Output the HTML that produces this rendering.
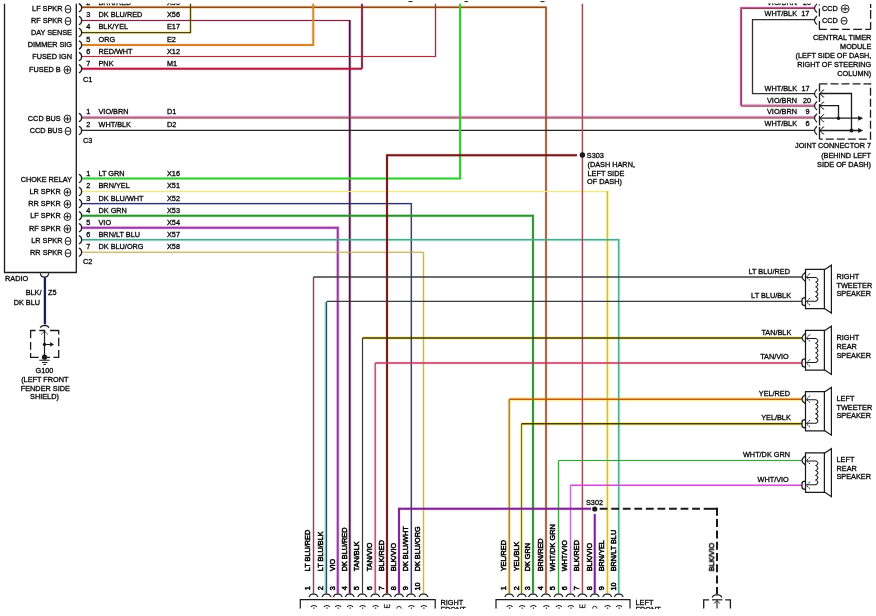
<!DOCTYPE html>
<html><head><meta charset="utf-8"><title>Radio wiring diagram</title>
<style>
html,body{margin:0;padding:0;background:#fff;}
body{width:876px;height:616px;overflow:hidden;}
svg{display:block;}
svg text{font-family:"Liberation Sans",sans-serif;fill:#000;stroke:#000;stroke-width:0.3px;}
</style></head><body>
<svg width="876" height="616" viewBox="0 0 876 616">
<defs><clipPath id="ct"><rect x="0" y="3.6" width="876" height="20"/></clipPath><clipPath id="cb"><rect x="0" y="0" width="876" height="609"/></clipPath></defs>
<rect width="876" height="616" fill="#ffffff"/>
<path d="M81.50,7.30 L546.70,7.30" stroke="#f4c488" stroke-width="3.6" fill="none" opacity="0.55"/>
<path d="M546.00,7.50 L546.00,593.50" stroke="#f6d2b4" stroke-width="3.6" fill="none" opacity="0.45"/>
<path d="M81.50,20.50 L349.75,20.50" stroke="#f7c6d6" stroke-width="3" fill="none" opacity="0.45"/>
<path d="M349.75,20.00 L349.75,593.50" stroke="#f4b6e0" stroke-width="4" fill="none" opacity="0.45"/>
<path d="M81.50,32.50 L190.50,32.50 L190.50,3.80" stroke="#f3ea90" stroke-width="3.4" fill="none" opacity="0.6"/>
<path d="M81.50,45.00 L313.25,45.00 L313.25,3.80" stroke="#fbe2bd" stroke-width="4" fill="none" opacity="0.45"/>
<path d="M81.50,56.50 L435.50,56.50 L435.50,3.80" stroke="#f8cfd0" stroke-width="2.8" fill="none" opacity="0.45"/>
<path d="M81.50,68.75 L362.00,68.75" stroke="#f8c3d4" stroke-width="4" fill="none" opacity="0.45"/>
<path d="M362.00,68.75 L362.00,3.80" stroke="#f8c3d4" stroke-width="4" fill="none" opacity="0.45"/>
<path d="M81.50,117.00 L815.00,117.00" stroke="#f7b4ee" stroke-width="3.2" fill="none" opacity="0.45"/>
<path d="M81.50,118.00 L815.00,118.00" stroke="#f6d8b8" stroke-width="3.0" fill="none" opacity="0.45"/>
<path d="M81.50,178.50 L460.00,178.50 L460.00,3.80" stroke="#c9f5c4" stroke-width="4" fill="none" opacity="0.45"/>
<path d="M81.50,191.50 L607.25,191.50" stroke="#fbf4b8" stroke-width="3.2" fill="none" opacity="0.45"/>
<path d="M607.40,191.00 L607.40,593.50" stroke="#f9ec68" stroke-width="3.4" fill="none" opacity="0.55"/>
<path d="M81.50,203.50 L411.30,203.50 L411.30,593.50" stroke="#d5d8f5" stroke-width="3" fill="none" opacity="0.45"/>
<path d="M81.50,215.75 L533.00,215.75 L533.00,593.50" stroke="#c4ecc0" stroke-width="4" fill="none" opacity="0.45"/>
<path d="M81.50,227.75 L337.75,227.75 L337.75,593.50" stroke="#f6a4f4" stroke-width="4" fill="none" opacity="0.45"/>
<path d="M81.50,239.75 L618.75,239.75 L618.75,593.50" stroke="#b4f0ec" stroke-width="4" fill="none" opacity="0.45"/>
<path d="M81.50,252.25 L423.50,252.25" stroke="#f6ecac" stroke-width="3" fill="none" opacity="0.45"/>
<path d="M423.50,252.25 L423.50,593.50" stroke="#f6ec9c" stroke-width="3" fill="none" opacity="0.45"/>
<path d="M577.00,155.25 L387.00,155.25 L387.00,593.50" stroke="#f0c4c0" stroke-width="4" fill="none" opacity="0.45"/>
<path d="M582.40,3.80 L582.40,593.50" stroke="#f6d0d8" stroke-width="3" fill="none" opacity="0.45"/>
<path d="M313.50,593.50 L313.50,277.00" stroke="#f6d0d8" stroke-width="3" fill="none" opacity="0.45"/>
<path d="M325.40,593.50 L325.40,302.00" stroke="#c8f6f6" stroke-width="3.6" fill="none" opacity="0.45"/>
<path d="M362.50,338.00 L802.00,338.00" stroke="#f6ec70" stroke-width="3.4" fill="none" opacity="0.75"/>
<path d="M375.20,593.50 L375.20,363.00" stroke="#f7cfdc" stroke-width="3.5" fill="none" opacity="0.45"/>
<path d="M375.20,363.00 L802.00,363.00" stroke="#f7cfdc" stroke-width="3.5" fill="none" opacity="0.45"/>
<path d="M509.25,593.50 L509.25,399.25" stroke="#fbdc80" stroke-width="3.6" fill="none" opacity="0.55"/>
<path d="M509.25,399.25 L802.00,399.25" stroke="#fbe578" stroke-width="3.8" fill="none" opacity="0.75"/>
<path d="M521.50,593.50 L521.50,423.75" stroke="#f8f080" stroke-width="3.6" fill="none" opacity="0.5"/>
<path d="M521.50,423.75 L802.00,423.75" stroke="#f8ee6c" stroke-width="3.6" fill="none" opacity="0.75"/>
<path d="M558.50,593.50 L558.50,460.50" stroke="#d3f0d0" stroke-width="3" fill="none" opacity="0.45"/>
<path d="M558.50,460.50 L802.00,460.50" stroke="#d3f0d0" stroke-width="3" fill="none" opacity="0.45"/>
<path d="M570.50,593.50 L570.50,485.25" stroke="#f8d4f8" stroke-width="3.5" fill="none" opacity="0.45"/>
<path d="M570.50,485.25 L802.00,485.25" stroke="#f8d4f8" stroke-width="3.5" fill="none" opacity="0.45"/>
<path d="M399.00,593.50 L399.00,508.75 L591.00,508.75" stroke="#ecc8f0" stroke-width="4" fill="none" opacity="0.45"/>
<path d="M594.75,514.00 L594.75,593.50" stroke="#ecc8f0" stroke-width="4" fill="none" opacity="0.45"/>
<path d="M815.00,7.50 L740.50,7.50 L740.50,105.20 L815.00,105.20" stroke="#f7b8ea" stroke-width="3.2" fill="none" opacity="0.45"/>
<path d="M815.00,8.50 L741.50,8.50 L741.50,106.20 L815.00,106.20" stroke="#f6d8c8" stroke-width="3.0" fill="none" opacity="0.45"/>
<path d="M44.90,277.50 L44.90,324.40" stroke="#c8cdf0" stroke-width="3.6" fill="none" opacity="0.45"/>
<path d="M81.50,7.30 L546.70,7.30" stroke="#8a481c" stroke-width="1.5" fill="none" stroke-linejoin="miter"/>
<path d="M546.00,7.50 L546.00,593.50" stroke="#984a2c" stroke-width="1.6" fill="none" stroke-linejoin="miter"/>
<path d="M81.50,20.50 L349.75,20.50" stroke="#7a2438" stroke-width="1.2" fill="none" stroke-linejoin="miter"/>
<path d="M349.75,20.00 L349.75,593.50" stroke="#45183f" stroke-width="1.8" fill="none" stroke-linejoin="miter"/>
<path d="M81.50,32.50 L190.50,32.50 L190.50,3.80" stroke="#4c4412" stroke-width="1.25" fill="none" stroke-linejoin="miter"/>
<path d="M81.50,45.00 L313.25,45.00 L313.25,3.80" stroke="#d88428" stroke-width="1.9" fill="none" stroke-linejoin="miter"/>
<path d="M81.50,56.50 L435.50,56.50 L435.50,3.80" stroke="#a83040" stroke-width="1.2" fill="none" stroke-linejoin="miter"/>
<path d="M81.50,68.75 L362.00,68.75" stroke="#ae1a42" stroke-width="1.9" fill="none" stroke-linejoin="miter"/>
<path d="M362.00,68.75 L362.00,3.80" stroke="#86284c" stroke-width="1.9" fill="none" stroke-linejoin="miter"/>
<path d="M81.50,117.00 L815.00,117.00" stroke="#bc5aa0" stroke-width="1.0" fill="none" stroke-linejoin="miter"/>
<path d="M81.50,118.00 L815.00,118.00" stroke="#7c3a46" stroke-width="1.0" fill="none" stroke-linejoin="miter"/>
<path d="M81.50,130.40 L815.00,130.40" stroke="#262626" stroke-width="1.25" fill="none" stroke-linejoin="miter"/>
<path d="M81.50,178.50 L460.00,178.50 L460.00,3.80" stroke="#35cc35" stroke-width="2.0" fill="none" stroke-linejoin="miter"/>
<path d="M81.50,191.50 L607.25,191.50" stroke="#f0e88e" stroke-width="1.2" fill="none" stroke-linejoin="miter"/>
<path d="M607.40,191.00 L607.40,593.50" stroke="#d2bc38" stroke-width="1.25" fill="none" stroke-linejoin="miter"/>
<path d="M81.50,203.50 L411.30,203.50 L411.30,593.50" stroke="#2c3066" stroke-width="1.25" fill="none" stroke-linejoin="miter"/>
<path d="M81.50,215.75 L533.00,215.75 L533.00,593.50" stroke="#2c9232" stroke-width="1.9" fill="none" stroke-linejoin="miter"/>
<path d="M81.50,227.75 L337.75,227.75 L337.75,593.50" stroke="#913c9e" stroke-width="2.0" fill="none" stroke-linejoin="miter"/>
<path d="M81.50,239.75 L618.75,239.75 L618.75,593.50" stroke="#50a686" stroke-width="1.4" fill="none" stroke-linejoin="miter"/>
<path d="M81.50,252.25 L423.50,252.25" stroke="#bcaa6c" stroke-width="1.15" fill="none" stroke-linejoin="miter"/>
<path d="M423.50,252.25 L423.50,593.50" stroke="#c9b25e" stroke-width="1.15" fill="none" stroke-linejoin="miter"/>
<path d="M577.00,155.25 L387.00,155.25 L387.00,593.50" stroke="#6f1618" stroke-width="1.9" fill="none" stroke-linejoin="miter"/>
<path d="M582.40,3.80 L582.40,593.50" stroke="#9e4c56" stroke-width="1.3" fill="none" stroke-linejoin="miter"/>
<path d="M313.50,593.50 L313.50,277.00" stroke="#8a4444" stroke-width="1.25" fill="none" stroke-linejoin="miter"/>
<path d="M313.50,277.00 L802.00,277.00" stroke="#3e3e3e" stroke-width="1.45" fill="none" stroke-linejoin="miter"/>
<path d="M325.40,593.50 L325.40,302.00" stroke="#4fd8d8" stroke-width="1.3" fill="none" stroke-linejoin="miter"/>
<path d="M326.60,593.50 L326.60,301.70" stroke="#1f4a4a" stroke-width="1.1" fill="none" stroke-linejoin="miter"/>
<path d="M326.60,301.40 L802.00,301.40" stroke="#3c3c3c" stroke-width="1.35" fill="none" stroke-linejoin="miter"/>
<path d="M362.50,593.50 L362.50,338.00" stroke="#383838" stroke-width="1.2" fill="none" stroke-linejoin="miter"/>
<path d="M362.50,338.00 L802.00,338.00" stroke="#3c3410" stroke-width="1.3" fill="none" stroke-linejoin="miter"/>
<path d="M375.20,593.50 L375.20,363.00" stroke="#bc4c68" stroke-width="1.4" fill="none" stroke-linejoin="miter"/>
<path d="M375.20,363.00 L802.00,363.00" stroke="#c6345c" stroke-width="1.4" fill="none" stroke-linejoin="miter"/>
<path d="M509.25,593.50 L509.25,399.25" stroke="#b06c2c" stroke-width="1.3" fill="none" stroke-linejoin="miter"/>
<path d="M509.25,399.25 L802.00,399.25" stroke="#bf5c14" stroke-width="1.5" fill="none" stroke-linejoin="miter"/>
<path d="M521.50,593.50 L521.50,423.75" stroke="#7c6c1e" stroke-width="1.25" fill="none" stroke-linejoin="miter"/>
<path d="M521.50,423.75 L802.00,423.75" stroke="#463c10" stroke-width="1.3" fill="none" stroke-linejoin="miter"/>
<path d="M558.50,593.50 L558.50,460.50" stroke="#3fa045" stroke-width="1.2" fill="none" stroke-linejoin="miter"/>
<path d="M558.50,460.50 L802.00,460.50" stroke="#3aa040" stroke-width="1.15" fill="none" stroke-linejoin="miter"/>
<path d="M570.50,593.50 L570.50,485.25" stroke="#bc74c8" stroke-width="1.3" fill="none" stroke-linejoin="miter"/>
<path d="M570.50,485.25 L802.00,485.25" stroke="#cf52d4" stroke-width="1.4" fill="none" stroke-linejoin="miter"/>
<path d="M399.00,593.50 L399.00,508.75 L591.00,508.75" stroke="#7d2090" stroke-width="1.9" fill="none" stroke-linejoin="miter"/>
<path d="M594.75,514.00 L594.75,593.50" stroke="#702084" stroke-width="1.9" fill="none" stroke-linejoin="miter"/>
<path d="M815.00,7.50 L740.50,7.50 L740.50,105.20 L815.00,105.20" stroke="#ba5c96" stroke-width="1.0" fill="none" stroke-linejoin="miter"/>
<path d="M815.00,8.50 L741.50,8.50 L741.50,106.20 L815.00,106.20" stroke="#8c4258" stroke-width="1.0" fill="none" stroke-linejoin="miter"/>
<path d="M815.00,19.60 L752.50,19.60 L752.50,93.70 L815.00,93.70" stroke="#303030" stroke-width="1.3" fill="none" stroke-linejoin="miter"/>
<path d="M44.90,277.50 L44.90,324.40" stroke="#141a54" stroke-width="2.1" fill="none" stroke-linejoin="miter"/>
<path d="M4.50,3.80 L4.50,272.50 L76.30,272.50 L76.30,3.80" stroke="#1a1a1a" stroke-width="1.3" fill="none" />
<path d="M78.9,3.60 C82.6,5.20 82.6,10.40 78.9,12.00" stroke="#1a1a1a" stroke-width="1.2" fill="none"/>
<path d="M78.9,16.30 C82.6,17.90 82.6,23.10 78.9,24.70" stroke="#1a1a1a" stroke-width="1.2" fill="none"/>
<path d="M78.9,28.30 C82.6,29.90 82.6,35.10 78.9,36.70" stroke="#1a1a1a" stroke-width="1.2" fill="none"/>
<path d="M78.9,40.80 C82.6,42.40 82.6,47.60 78.9,49.20" stroke="#1a1a1a" stroke-width="1.2" fill="none"/>
<path d="M78.9,52.40 C82.6,54.00 82.6,59.20 78.9,60.80" stroke="#1a1a1a" stroke-width="1.2" fill="none"/>
<path d="M78.9,64.55 C82.6,66.15 82.6,71.35 78.9,72.95" stroke="#1a1a1a" stroke-width="1.2" fill="none"/>
<path d="M78.9,113.30 C82.6,114.90 82.6,120.10 78.9,121.70" stroke="#1a1a1a" stroke-width="1.2" fill="none"/>
<path d="M78.9,126.30 C82.6,127.90 82.6,133.10 78.9,134.70" stroke="#1a1a1a" stroke-width="1.2" fill="none"/>
<path d="M78.9,174.30 C82.6,175.90 82.6,181.10 78.9,182.70" stroke="#1a1a1a" stroke-width="1.2" fill="none"/>
<path d="M78.9,187.30 C82.6,188.90 82.6,194.10 78.9,195.70" stroke="#1a1a1a" stroke-width="1.2" fill="none"/>
<path d="M78.9,199.30 C82.6,200.90 82.6,206.10 78.9,207.70" stroke="#1a1a1a" stroke-width="1.2" fill="none"/>
<path d="M78.9,211.55 C82.6,213.15 82.6,218.35 78.9,219.95" stroke="#1a1a1a" stroke-width="1.2" fill="none"/>
<path d="M78.9,223.55 C82.6,225.15 82.6,230.35 78.9,231.95" stroke="#1a1a1a" stroke-width="1.2" fill="none"/>
<path d="M78.9,235.55 C82.6,237.15 82.6,242.35 78.9,243.95" stroke="#1a1a1a" stroke-width="1.2" fill="none"/>
<path d="M78.9,248.05 C82.6,249.65 82.6,254.85 78.9,256.45" stroke="#1a1a1a" stroke-width="1.2" fill="none"/>
<ellipse cx="68.0" cy="9.200000000000001" rx="2.85" ry="3.85" stroke="#1a1a1a" stroke-width="1.0" fill="none"/>
<path d="M66.05,9.200000000000001 H69.95" stroke="#1a1a1a" stroke-width="1.0"/>
<ellipse cx="68.0" cy="21.2" rx="2.85" ry="3.85" stroke="#1a1a1a" stroke-width="1.0" fill="none"/>
<path d="M66.05,21.2 H69.95" stroke="#1a1a1a" stroke-width="1.0"/>
<ellipse cx="67.4" cy="69.9" rx="3.35" ry="3.85" stroke="#1a1a1a" stroke-width="1.0" fill="none"/>
<path d="M64.95,69.9 H69.85" stroke="#1a1a1a" stroke-width="1.0"/>
<path d="M67.4,67.60000000000001 V72.2" stroke="#1a1a1a" stroke-width="1.0"/>
<ellipse cx="67.4" cy="118.9" rx="3.35" ry="3.85" stroke="#1a1a1a" stroke-width="1.0" fill="none"/>
<path d="M64.95,118.9 H69.85" stroke="#1a1a1a" stroke-width="1.0"/>
<path d="M67.4,116.60000000000001 V121.2" stroke="#1a1a1a" stroke-width="1.0"/>
<ellipse cx="68.0" cy="131.20000000000002" rx="2.85" ry="3.85" stroke="#1a1a1a" stroke-width="1.0" fill="none"/>
<path d="M66.05,131.20000000000002 H69.95" stroke="#1a1a1a" stroke-width="1.0"/>
<ellipse cx="67.4" cy="192.20000000000002" rx="3.35" ry="3.85" stroke="#1a1a1a" stroke-width="1.0" fill="none"/>
<path d="M64.95,192.20000000000002 H69.85" stroke="#1a1a1a" stroke-width="1.0"/>
<path d="M67.4,189.9 V194.50000000000003" stroke="#1a1a1a" stroke-width="1.0"/>
<ellipse cx="67.4" cy="204.20000000000002" rx="3.35" ry="3.85" stroke="#1a1a1a" stroke-width="1.0" fill="none"/>
<path d="M64.95,204.20000000000002 H69.85" stroke="#1a1a1a" stroke-width="1.0"/>
<path d="M67.4,201.9 V206.50000000000003" stroke="#1a1a1a" stroke-width="1.0"/>
<ellipse cx="67.4" cy="216.70000000000002" rx="3.35" ry="3.85" stroke="#1a1a1a" stroke-width="1.0" fill="none"/>
<path d="M64.95,216.70000000000002 H69.85" stroke="#1a1a1a" stroke-width="1.0"/>
<path d="M67.4,214.4 V219.00000000000003" stroke="#1a1a1a" stroke-width="1.0"/>
<ellipse cx="67.4" cy="228.9" rx="3.35" ry="3.85" stroke="#1a1a1a" stroke-width="1.0" fill="none"/>
<path d="M64.95,228.9 H69.85" stroke="#1a1a1a" stroke-width="1.0"/>
<path d="M67.4,226.6 V231.20000000000002" stroke="#1a1a1a" stroke-width="1.0"/>
<ellipse cx="68.0" cy="241.20000000000002" rx="2.85" ry="3.85" stroke="#1a1a1a" stroke-width="1.0" fill="none"/>
<path d="M66.05,241.20000000000002 H69.95" stroke="#1a1a1a" stroke-width="1.0"/>
<ellipse cx="68.0" cy="253.20000000000002" rx="2.85" ry="3.85" stroke="#1a1a1a" stroke-width="1.0" fill="none"/>
<path d="M66.05,253.20000000000002 H69.95" stroke="#1a1a1a" stroke-width="1.0"/>
<path d="M408.5,1.6 h4 M464.5,1.6 h3.5 M540.5,1.6 h4" stroke="#1a1a1a" stroke-width="1"/>
<path d="M40.3,273.4 C41,278.4 48,278.4 48.7,273.4" stroke="#1a1a1a" stroke-width="1.2" fill="none"/>
<path d="M40.2,327.6 Q41.6,325.5 43.2,325.5 H46 Q47.6,325.5 49,327.6" stroke="#1a1a1a" stroke-width="1.25" fill="none"/>
<path d="M30.60,330.50 L35.60,330.50 M39.30,330.50 L45.30,330.50 M50.00,330.50 L58.70,330.50 M30.60,329.90 L30.60,338.30 M30.60,342.00 L30.60,349.70 M30.60,353.00 L30.60,357.90 M58.70,329.90 L58.70,334.50 M58.70,337.80 L58.70,346.30 M58.70,350.00 L58.70,357.90 M30.60,357.30 L38.60,357.30 M42.40,357.30 L50.00,357.30 M53.40,357.30 L58.70,357.30" stroke="#1a1a1a" stroke-width="1.3" fill="none"/>
<path d="M44.50,331.00 L44.50,357.00" stroke="#1a1a1a" stroke-width="1.2" fill="none" />
<path d="M41.2,334.4 L44.5,331.2 L47.8,334.4" stroke="#1a1a1a" stroke-width="1" fill="none" stroke-dasharray="2 0.8"/>
<circle cx="44.5" cy="344.4" r="1.7" fill="#1a1a1a"/>
<path d="M44.50,344.50 L51.00,344.50" stroke="#1a1a1a" stroke-width="1.1" fill="none" />
<path d="M50.2,342.1 L54,344.4 L50.2,346.7 Z" fill="#1a1a1a"/>
<circle cx="44.5" cy="357.2" r="2.6" fill="#1a1a1a"/>
<path d="M39.3,360.3 H49.7 M42,362.4 H47.5 M43.5,364.4 H46" stroke="#1a1a1a" stroke-width="1.05"/>
<circle cx="582.4" cy="155" r="2.7" fill="#1a1a1a"/>
<path d="M819.40,4.40 L819.40,5.60 M819.40,8.60 L819.40,16.40 M819.40,21.00 L819.40,29.40 M870.60,4.00 L870.60,8.00 M870.60,10.00 L870.60,18.80 M870.60,22.00 L870.60,29.40 M819.20,29.40 L826.80,29.40 M830.40,29.40 L838.80,29.40 M842.00,29.40 L850.00,29.40 M853.20,29.40 L862.00,29.40 M865.20,29.40 L870.60,29.40" stroke="#1a1a1a" stroke-width="1.3" fill="none"/>
<path d="M817,3.90 Q812,8.20 817,12.50" stroke="#1a1a1a" stroke-width="1.2" fill="none"/>
<path d="M817,16.00 Q812,20.30 817,24.60" stroke="#1a1a1a" stroke-width="1.2" fill="none"/>
<path d="M817,89.40 Q812,93.70 817,98.00" stroke="#1a1a1a" stroke-width="1.2" fill="none"/>
<path d="M817,101.50 Q812,105.80 817,110.10" stroke="#1a1a1a" stroke-width="1.2" fill="none"/>
<path d="M817,113.70 Q812,118.00 817,122.30" stroke="#1a1a1a" stroke-width="1.2" fill="none"/>
<path d="M817,126.20 Q812,130.50 817,134.80" stroke="#1a1a1a" stroke-width="1.2" fill="none"/>
<ellipse cx="845.1" cy="8.8" rx="3.9" ry="3.9" stroke="#1a1a1a" stroke-width="1.0" fill="none"/>
<path d="M842.10,8.8 H848.10" stroke="#1a1a1a" stroke-width="1.0"/>
<path d="M845.1,6.500000000000001 V11.100000000000001" stroke="#1a1a1a" stroke-width="1.0"/>
<ellipse cx="844.1" cy="20.8" rx="3.0" ry="3.6" stroke="#1a1a1a" stroke-width="1.0" fill="none"/>
<path d="M842.00,20.8 H846.20" stroke="#1a1a1a" stroke-width="1.0"/>
<path d="M819.50,83.80 L819.50,91.50 M819.50,92.90 L819.50,102.00 M819.50,104.00 L819.50,114.00 M819.50,115.70 L819.50,125.40 M819.50,127.00 L819.50,139.10" stroke="#1a1a1a" stroke-width="1.3" fill="none"/>
<path d="M819.5,83.8 H870.5 V139.1 H819.5" stroke="#1a1a1a" stroke-width="1.3" fill="none" stroke-dasharray="8 3"/>
<path d="M824.2,90.00 H823.2 L820,93.50 L823.2,97.00 H824.2" stroke="#1a1a1a" stroke-width="1" fill="none"/>
<path d="M824.2,102.10 H823.2 L820,105.60 L823.2,109.10 H824.2" stroke="#1a1a1a" stroke-width="1" fill="none"/>
<path d="M824.2,114.70 H823.2 L820,118.20 L823.2,121.70 H824.2" stroke="#1a1a1a" stroke-width="1" fill="none"/>
<path d="M824.2,127.00 H823.2 L820,130.50 L823.2,134.00 H824.2" stroke="#1a1a1a" stroke-width="1" fill="none"/>
<path d="M820.00,93.50 L851.50,93.50 L851.50,130.50" stroke="#1a1a1a" stroke-width="1.3" fill="none" />
<path d="M820.00,105.60 L838.50,105.60 L838.50,118.20" stroke="#1a1a1a" stroke-width="1.3" fill="none" />
<path d="M820.00,118.20 L859.00,118.20" stroke="#1a1a1a" stroke-width="1.3" fill="none" />
<path d="M820.00,130.50 L859.00,130.50" stroke="#1a1a1a" stroke-width="1.3" fill="none" />
<path d="M858.2,115.7 L863.2,118.2 L858.2,120.7 Z" fill="#1a1a1a"/>
<path d="M858.2,128.0 L863.2,130.5 L858.2,133.0 Z" fill="#1a1a1a"/>
<circle cx="838.5" cy="118.2" r="1.8" fill="#1a1a1a"/>
<circle cx="851.5" cy="130.5" r="2.0" fill="#1a1a1a"/>
<path d="M805.5,269.40 H824.4 V308.70 H805.5 Z" stroke="#1a1a1a" stroke-width="1.25" fill="none"/>
<path d="M824.8,269.40 L831.4,265.20 V313.10 L824.8,308.70" stroke="#1a1a1a" stroke-width="1.2" fill="none"/>
<path d="M805.2,272.60 Q798.8,277.00 805.2,281.20" stroke="#1a1a1a" stroke-width="1.25" fill="none"/>
<path d="M805.2,297.50 Q802,297.50 802,300.10 V303.10 Q802,305.70 805.2,305.70" stroke="#1a1a1a" stroke-width="1.25" fill="none"/>
<path d="M810,273.30 L806.4,277.20 L810,280.40" stroke="#1a1a1a" stroke-width="1" fill="none" stroke-dasharray="2.2 0.7"/>
<path d="M810,298.00 L806.4,301.90 L810,305.10" stroke="#1a1a1a" stroke-width="1" fill="none" stroke-dasharray="2.2 0.7"/>
<path d="M806.3,277.40 H815.90 Q820.00,279.78 815.90,282.16 Q820.00,284.54 815.90,286.92 Q820.00,289.30 815.90,291.68 Q820.00,294.06 815.90,296.44 Q820.00,298.82 815.90,301.20 H806.3" stroke="#1a1a1a" stroke-width="1.05" fill="none" stroke-linejoin="miter"/>
<path d="M805.5,330.40 H824.4 V370.00 H805.5 Z" stroke="#1a1a1a" stroke-width="1.25" fill="none"/>
<path d="M824.8,330.40 L831.4,326.20 V374.40 L824.8,370.00" stroke="#1a1a1a" stroke-width="1.2" fill="none"/>
<path d="M805.2,333.60 Q798.8,338.00 805.2,342.20" stroke="#1a1a1a" stroke-width="1.25" fill="none"/>
<path d="M805.2,358.80 Q802,358.80 802,361.40 V364.40 Q802,367.00 805.2,367.00" stroke="#1a1a1a" stroke-width="1.25" fill="none"/>
<path d="M810,334.30 L806.4,338.20 L810,341.40" stroke="#1a1a1a" stroke-width="1" fill="none" stroke-dasharray="2.2 0.7"/>
<path d="M810,359.30 L806.4,363.20 L810,366.40" stroke="#1a1a1a" stroke-width="1" fill="none" stroke-dasharray="2.2 0.7"/>
<path d="M806.3,338.40 H815.90 Q820.00,340.81 815.90,343.22 Q820.00,345.63 815.90,348.04 Q820.00,350.45 815.90,352.86 Q820.00,355.27 815.90,357.68 Q820.00,360.09 815.90,362.50 H806.3" stroke="#1a1a1a" stroke-width="1.05" fill="none" stroke-linejoin="miter"/>
<path d="M805.5,391.65 H824.4 V430.75 H805.5 Z" stroke="#1a1a1a" stroke-width="1.25" fill="none"/>
<path d="M824.8,391.65 L831.4,387.45 V435.15 L824.8,430.75" stroke="#1a1a1a" stroke-width="1.2" fill="none"/>
<path d="M805.2,394.85 Q798.8,399.25 805.2,403.45" stroke="#1a1a1a" stroke-width="1.25" fill="none"/>
<path d="M805.2,419.55 Q802,419.55 802,422.15 V425.15 Q802,427.75 805.2,427.75" stroke="#1a1a1a" stroke-width="1.25" fill="none"/>
<path d="M810,395.55 L806.4,399.45 L810,402.65" stroke="#1a1a1a" stroke-width="1" fill="none" stroke-dasharray="2.2 0.7"/>
<path d="M810,420.05 L806.4,423.95 L810,427.15" stroke="#1a1a1a" stroke-width="1" fill="none" stroke-dasharray="2.2 0.7"/>
<path d="M806.3,399.65 H815.90 Q820.00,402.01 815.90,404.37 Q820.00,406.73 815.90,409.09 Q820.00,411.45 815.90,413.81 Q820.00,416.17 815.90,418.53 Q820.00,420.89 815.90,423.25 H806.3" stroke="#1a1a1a" stroke-width="1.05" fill="none" stroke-linejoin="miter"/>
<path d="M805.5,452.90 H824.4 V492.25 H805.5 Z" stroke="#1a1a1a" stroke-width="1.25" fill="none"/>
<path d="M824.8,452.90 L831.4,448.70 V496.65 L824.8,492.25" stroke="#1a1a1a" stroke-width="1.2" fill="none"/>
<path d="M805.2,456.10 Q798.8,460.50 805.2,464.70" stroke="#1a1a1a" stroke-width="1.25" fill="none"/>
<path d="M805.2,481.05 Q802,481.05 802,483.65 V486.65 Q802,489.25 805.2,489.25" stroke="#1a1a1a" stroke-width="1.25" fill="none"/>
<path d="M810,456.80 L806.4,460.70 L810,463.90" stroke="#1a1a1a" stroke-width="1" fill="none" stroke-dasharray="2.2 0.7"/>
<path d="M810,481.55 L806.4,485.45 L810,488.65" stroke="#1a1a1a" stroke-width="1" fill="none" stroke-dasharray="2.2 0.7"/>
<path d="M806.3,460.90 H815.90 Q820.00,463.28 815.90,465.67 Q820.00,468.05 815.90,470.44 Q820.00,472.82 815.90,475.21 Q820.00,477.59 815.90,479.98 Q820.00,482.37 815.90,484.75 H806.3" stroke="#1a1a1a" stroke-width="1.05" fill="none" stroke-linejoin="miter"/>
<circle cx="594.75" cy="509" r="2.6" fill="#1a1a1a"/>
<path d="M599.7,508.8 H703.7" stroke="#1a1a1a" stroke-width="2" fill="none" stroke-dasharray="7.8 3.756"/>
<path d="M703.7,508.8 H718" stroke="#1a1a1a" stroke-width="2" fill="none"/>
<path d="M717,507.8 V594" stroke="#1a1a1a" stroke-width="2" fill="none" stroke-dasharray="8 3.3"/>
<path d="M712,597.4 Q713.6,594.8 715.4,594.8 H718.6 Q720.4,594.8 722,597.4" stroke="#1a1a1a" stroke-width="1.25" fill="none"/>
<path d="M712,599.8 H722.4" stroke="#1a1a1a" stroke-width="1.2" fill="none"/>
<path d="M703.70,608.60 L703.70,599.20 M703.10,599.80 L709.00,599.80 M725.20,599.80 L731.00,599.80 M730.40,599.20 L730.40,608.60" stroke="#1a1a1a" stroke-width="1.3" fill="none"/>
<path d="M717.00,600.50 L717.00,608.50" stroke="#1a1a1a" stroke-width="1.1" fill="none" />
<path d="M714.2,603.6 L717,600.5 L719.8,603.6" stroke="#1a1a1a" stroke-width="1" fill="none"/>
<path d="M309.00,597 Q310.50,594.2 312.10,594.2 H314.90 Q316.50,594.2 318.00,597" stroke="#1a1a1a" stroke-width="1.25" fill="none"/>
<path d="M322.00,597 Q323.50,594.2 325.10,594.2 H327.90 Q329.50,594.2 331.00,597" stroke="#1a1a1a" stroke-width="1.25" fill="none"/>
<path d="M333.25,597 Q334.75,594.2 336.35,594.2 H339.15 Q340.75,594.2 342.25,597" stroke="#1a1a1a" stroke-width="1.25" fill="none"/>
<path d="M345.25,597 Q346.75,594.2 348.35,594.2 H351.15 Q352.75,594.2 354.25,597" stroke="#1a1a1a" stroke-width="1.25" fill="none"/>
<path d="M357.75,597 Q359.25,594.2 360.85,594.2 H363.65 Q365.25,594.2 366.75,597" stroke="#1a1a1a" stroke-width="1.25" fill="none"/>
<path d="M370.75,597 Q372.25,594.2 373.85,594.2 H376.65 Q378.25,594.2 379.75,597" stroke="#1a1a1a" stroke-width="1.25" fill="none"/>
<path d="M382.50,597 Q384.00,594.2 385.60,594.2 H388.40 Q390.00,594.2 391.50,597" stroke="#1a1a1a" stroke-width="1.25" fill="none"/>
<path d="M394.50,597 Q396.00,594.2 397.60,594.2 H400.40 Q402.00,594.2 403.50,597" stroke="#1a1a1a" stroke-width="1.25" fill="none"/>
<path d="M406.50,597 Q408.00,594.2 409.60,594.2 H412.40 Q414.00,594.2 415.50,597" stroke="#1a1a1a" stroke-width="1.25" fill="none"/>
<path d="M419.00,597 Q420.50,594.2 422.10,594.2 H424.90 Q426.50,594.2 428.00,597" stroke="#1a1a1a" stroke-width="1.25" fill="none"/>
<path d="M300.30,608.60 L300.30,599.60 L435.20,599.60 L435.20,608.60" stroke="#1a1a1a" stroke-width="1.2" fill="none" />
<path d="M310.90,606.9 Q312.00,605.5 313.90,605.5 Q315.90,605.5 316.70,606.9" stroke="#1a1a1a" stroke-width="1.15" fill="none"/>
<path d="M313.90,607.4 v1.3" stroke="#1a1a1a" stroke-width="1.2"/>
<path d="M323.90,606.9 Q325.00,605.5 326.90,605.5 Q328.90,605.5 329.70,606.9" stroke="#1a1a1a" stroke-width="1.15" fill="none"/>
<path d="M326.90,607.4 v1.3" stroke="#1a1a1a" stroke-width="1.2"/>
<path d="M335.15,606.9 Q336.25,605.5 338.15,605.5 Q340.15,605.5 340.95,606.9" stroke="#1a1a1a" stroke-width="1.15" fill="none"/>
<path d="M338.15,607.4 v1.3" stroke="#1a1a1a" stroke-width="1.2"/>
<path d="M347.15,606.9 Q348.25,605.5 350.15,605.5 Q352.15,605.5 352.95,606.9" stroke="#1a1a1a" stroke-width="1.15" fill="none"/>
<path d="M350.15,607.4 v1.3" stroke="#1a1a1a" stroke-width="1.2"/>
<path d="M359.65,606.9 Q360.75,605.5 362.65,605.5 Q364.65,605.5 365.45,606.9" stroke="#1a1a1a" stroke-width="1.15" fill="none"/>
<path d="M362.65,607.4 v1.3" stroke="#1a1a1a" stroke-width="1.2"/>
<path d="M372.65,606.9 Q373.75,605.5 375.65,605.5 Q377.65,605.5 378.45,606.9" stroke="#1a1a1a" stroke-width="1.15" fill="none"/>
<path d="M375.65,607.4 v1.3" stroke="#1a1a1a" stroke-width="1.2"/>
<path d="M384.40,604.2 V607.6 H389.60 V604.2 M387.00,604.6 V607.6" stroke="#1a1a1a" stroke-width="0.9" fill="none"/>
<path d="M396.80,608.6 Q396.80,606.2 399.00,606.2 Q401.20,606.2 401.20,608.6" stroke="#1a1a1a" stroke-width="0.9" fill="none"/>
<path d="M408.40,606.9 Q409.50,605.5 411.40,605.5 Q413.40,605.5 414.20,606.9" stroke="#1a1a1a" stroke-width="1.15" fill="none"/>
<path d="M411.40,607.4 v1.3" stroke="#1a1a1a" stroke-width="1.2"/>
<path d="M420.90,606.9 Q422.00,605.5 423.90,605.5 Q425.90,605.5 426.70,606.9" stroke="#1a1a1a" stroke-width="1.15" fill="none"/>
<path d="M423.90,607.4 v1.3" stroke="#1a1a1a" stroke-width="1.2"/>
<path d="M504.75,597 Q506.25,594.2 507.85,594.2 H510.65 Q512.25,594.2 513.75,597" stroke="#1a1a1a" stroke-width="1.25" fill="none"/>
<path d="M517.25,597 Q518.75,594.2 520.35,594.2 H523.15 Q524.75,594.2 526.25,597" stroke="#1a1a1a" stroke-width="1.25" fill="none"/>
<path d="M528.50,597 Q530.00,594.2 531.60,594.2 H534.40 Q536.00,594.2 537.50,597" stroke="#1a1a1a" stroke-width="1.25" fill="none"/>
<path d="M541.50,597 Q543.00,594.2 544.60,594.2 H547.40 Q549.00,594.2 550.50,597" stroke="#1a1a1a" stroke-width="1.25" fill="none"/>
<path d="M554.00,597 Q555.50,594.2 557.10,594.2 H559.90 Q561.50,594.2 563.00,597" stroke="#1a1a1a" stroke-width="1.25" fill="none"/>
<path d="M566.00,597 Q567.50,594.2 569.10,594.2 H571.90 Q573.50,594.2 575.00,597" stroke="#1a1a1a" stroke-width="1.25" fill="none"/>
<path d="M577.90,597 Q579.40,594.2 581.00,594.2 H583.80 Q585.40,594.2 586.90,597" stroke="#1a1a1a" stroke-width="1.25" fill="none"/>
<path d="M590.25,597 Q591.75,594.2 593.35,594.2 H596.15 Q597.75,594.2 599.25,597" stroke="#1a1a1a" stroke-width="1.25" fill="none"/>
<path d="M602.75,597 Q604.25,594.2 605.85,594.2 H608.65 Q610.25,594.2 611.75,597" stroke="#1a1a1a" stroke-width="1.25" fill="none"/>
<path d="M614.25,597 Q615.75,594.2 617.35,594.2 H620.15 Q621.75,594.2 623.25,597" stroke="#1a1a1a" stroke-width="1.25" fill="none"/>
<path d="M496.00,608.60 L496.00,599.60 L630.00,599.60 L630.00,608.60" stroke="#1a1a1a" stroke-width="1.2" fill="none" />
<path d="M506.65,606.9 Q507.75,605.5 509.65,605.5 Q511.65,605.5 512.45,606.9" stroke="#1a1a1a" stroke-width="1.15" fill="none"/>
<path d="M509.65,607.4 v1.3" stroke="#1a1a1a" stroke-width="1.2"/>
<path d="M519.15,606.9 Q520.25,605.5 522.15,605.5 Q524.15,605.5 524.95,606.9" stroke="#1a1a1a" stroke-width="1.15" fill="none"/>
<path d="M522.15,607.4 v1.3" stroke="#1a1a1a" stroke-width="1.2"/>
<path d="M530.40,606.9 Q531.50,605.5 533.40,605.5 Q535.40,605.5 536.20,606.9" stroke="#1a1a1a" stroke-width="1.15" fill="none"/>
<path d="M533.40,607.4 v1.3" stroke="#1a1a1a" stroke-width="1.2"/>
<path d="M543.40,606.9 Q544.50,605.5 546.40,605.5 Q548.40,605.5 549.20,606.9" stroke="#1a1a1a" stroke-width="1.15" fill="none"/>
<path d="M546.40,607.4 v1.3" stroke="#1a1a1a" stroke-width="1.2"/>
<path d="M555.90,606.9 Q557.00,605.5 558.90,605.5 Q560.90,605.5 561.70,606.9" stroke="#1a1a1a" stroke-width="1.15" fill="none"/>
<path d="M558.90,607.4 v1.3" stroke="#1a1a1a" stroke-width="1.2"/>
<path d="M567.90,606.9 Q569.00,605.5 570.90,605.5 Q572.90,605.5 573.70,606.9" stroke="#1a1a1a" stroke-width="1.15" fill="none"/>
<path d="M570.90,607.4 v1.3" stroke="#1a1a1a" stroke-width="1.2"/>
<path d="M579.80,604.2 V607.6 H585.00 V604.2 M582.40,604.6 V607.6" stroke="#1a1a1a" stroke-width="0.9" fill="none"/>
<path d="M592.55,608.6 Q592.55,606.2 594.75,606.2 Q596.95,606.2 596.95,608.6" stroke="#1a1a1a" stroke-width="0.9" fill="none"/>
<path d="M604.65,606.9 Q605.75,605.5 607.65,605.5 Q609.65,605.5 610.45,606.9" stroke="#1a1a1a" stroke-width="1.15" fill="none"/>
<path d="M607.65,607.4 v1.3" stroke="#1a1a1a" stroke-width="1.2"/>
<path d="M616.15,606.9 Q617.25,605.5 619.15,605.5 Q621.15,605.5 621.95,606.9" stroke="#1a1a1a" stroke-width="1.15" fill="none"/>
<path d="M619.15,607.4 v1.3" stroke="#1a1a1a" stroke-width="1.2"/>
<g opacity="0.995">
<text x="62.50" y="10.91" text-anchor="end" font-size="7.3" >LF SPKR</text>
<text x="62.50" y="22.91" text-anchor="end" font-size="7.3" >RF SPKR</text>
<text x="72.00" y="34.91" text-anchor="end" font-size="7.3" >DAY SENSE</text>
<text x="72.00" y="47.21" text-anchor="end" font-size="7.3" >DIMMER SIG</text>
<text x="72.00" y="59.41" text-anchor="end" font-size="7.3" >FUSED IGN</text>
<text x="60.70" y="71.61" text-anchor="end" font-size="7.3" >FUSED B</text>
<text x="60.70" y="120.61" text-anchor="end" font-size="7.3" >CCD BUS</text>
<text x="62.50" y="132.91" text-anchor="end" font-size="7.3" >CCD BUS</text>
<text x="72.00" y="181.61" text-anchor="end" font-size="7.3" >CHOKE RELAY</text>
<text x="60.70" y="193.91" text-anchor="end" font-size="7.3" >LR SPKR</text>
<text x="60.70" y="205.91" text-anchor="end" font-size="7.3" >RR SPKR</text>
<text x="60.70" y="218.41" text-anchor="end" font-size="7.3" >LF SPKR</text>
<text x="60.70" y="230.61" text-anchor="end" font-size="7.3" >RF SPKR</text>
<text x="62.50" y="242.91" text-anchor="end" font-size="7.3" >LR SPKR</text>
<text x="62.50" y="254.91" text-anchor="end" font-size="7.3" >RR SPKR</text>
<text x="86.30" y="17.11" text-anchor="start" font-size="7.3" >3</text>
<text x="98.50" y="17.11" text-anchor="start" font-size="7.3" >DK BLU/RED</text>
<text x="167.00" y="17.11" text-anchor="start" font-size="7.3" >X56</text>
<text x="86.30" y="29.11" text-anchor="start" font-size="7.3" >4</text>
<text x="98.50" y="29.11" text-anchor="start" font-size="7.3" >BLK/YEL</text>
<text x="167.00" y="29.11" text-anchor="start" font-size="7.3" >E17</text>
<text x="86.30" y="41.61" text-anchor="start" font-size="7.3" >5</text>
<text x="98.50" y="41.61" text-anchor="start" font-size="7.3" >ORG</text>
<text x="167.00" y="41.61" text-anchor="start" font-size="7.3" >E2</text>
<text x="86.30" y="53.61" text-anchor="start" font-size="7.3" >6</text>
<text x="98.50" y="53.61" text-anchor="start" font-size="7.3" >RED/WHT</text>
<text x="167.00" y="53.61" text-anchor="start" font-size="7.3" >X12</text>
<text x="86.30" y="65.61" text-anchor="start" font-size="7.3" >7</text>
<text x="98.50" y="65.61" text-anchor="start" font-size="7.3" >PNK</text>
<text x="167.00" y="65.61" text-anchor="start" font-size="7.3" >M1</text>
<text x="86.30" y="114.31" text-anchor="start" font-size="7.3" >1</text>
<text x="98.50" y="114.31" text-anchor="start" font-size="7.3" >VIO/BRN</text>
<text x="167.00" y="114.31" text-anchor="start" font-size="7.3" >D1</text>
<text x="86.30" y="126.61" text-anchor="start" font-size="7.3" >2</text>
<text x="98.50" y="126.61" text-anchor="start" font-size="7.3" >WHT/BLK</text>
<text x="167.00" y="126.61" text-anchor="start" font-size="7.3" >D2</text>
<text x="86.30" y="175.81" text-anchor="start" font-size="7.3" >1</text>
<text x="98.50" y="175.81" text-anchor="start" font-size="7.3" >LT GRN</text>
<text x="167.00" y="175.81" text-anchor="start" font-size="7.3" >X16</text>
<text x="86.30" y="187.91" text-anchor="start" font-size="7.3" >2</text>
<text x="98.50" y="187.91" text-anchor="start" font-size="7.3" >BRN/YEL</text>
<text x="167.00" y="187.91" text-anchor="start" font-size="7.3" >X51</text>
<text x="86.30" y="200.81" text-anchor="start" font-size="7.3" >3</text>
<text x="98.50" y="200.81" text-anchor="start" font-size="7.3" >DK BLU/WHT</text>
<text x="167.00" y="200.81" text-anchor="start" font-size="7.3" >X52</text>
<text x="86.30" y="212.61" text-anchor="start" font-size="7.3" >4</text>
<text x="98.50" y="212.61" text-anchor="start" font-size="7.3" >DK GRN</text>
<text x="167.00" y="212.61" text-anchor="start" font-size="7.3" >X53</text>
<text x="86.30" y="224.61" text-anchor="start" font-size="7.3" >5</text>
<text x="98.50" y="224.61" text-anchor="start" font-size="7.3" >VIO</text>
<text x="167.00" y="224.61" text-anchor="start" font-size="7.3" >X54</text>
<text x="86.30" y="236.61" text-anchor="start" font-size="7.3" >6</text>
<text x="98.50" y="236.61" text-anchor="start" font-size="7.3" >BRN/LT BLU</text>
<text x="167.00" y="236.61" text-anchor="start" font-size="7.3" >X57</text>
<text x="86.30" y="249.41" text-anchor="start" font-size="7.3" >7</text>
<text x="98.50" y="249.41" text-anchor="start" font-size="7.3" >DK BLU/ORG</text>
<text x="167.00" y="249.41" text-anchor="start" font-size="7.3" >X58</text>
<text x="83.00" y="82.11" text-anchor="start" font-size="7.3" >C1</text>
<text x="83.00" y="142.61" text-anchor="start" font-size="7.3" >C3</text>
<text x="83.00" y="263.61" text-anchor="start" font-size="7.3" >C2</text>
<text x="5.00" y="280.61" text-anchor="start" font-size="7.3" >RADIO</text>
<text x="41.50" y="295.41" text-anchor="end" font-size="7.3" >BLK/</text>
<text x="40.00" y="304.61" text-anchor="end" font-size="7.3" >DK BLU</text>
<text x="48.00" y="295.41" text-anchor="start" font-size="7.3" >Z5</text>
<text x="86.30" y="4.91" text-anchor="start" font-size="7.3" clip-path="url(#ct)">2</text>
<text x="98.50" y="4.91" text-anchor="start" font-size="7.3" clip-path="url(#ct)">BRN/RED</text>
<text x="167.00" y="4.91" text-anchor="start" font-size="7.3" clip-path="url(#ct)">X55</text>
<text x="797.00" y="4.81" text-anchor="end" font-size="7.3" clip-path="url(#ct)">VIO/BRN</text>
<text x="811.00" y="4.81" text-anchor="end" font-size="7.3" clip-path="url(#ct)">20</text>
<text x="44.50" y="373.41" text-anchor="middle" font-size="7.3" >G100</text>
<text x="44.80" y="382.11" text-anchor="middle" font-size="7.3" >(LEFT FRONT</text>
<text x="45.30" y="391.41" text-anchor="middle" font-size="7.3" >FENDER SIDE</text>
<text x="44.50" y="399.41" text-anchor="middle" font-size="7.3" >SHIELD)</text>
<text x="586.80" y="157.81" text-anchor="start" font-size="7.3" >S303</text>
<text x="587.50" y="166.91" text-anchor="start" font-size="7.3" >(DASH HARN,</text>
<text x="587.50" y="175.91" text-anchor="start" font-size="7.3" >LEFT SIDE</text>
<text x="587.00" y="183.81" text-anchor="start" font-size="7.3" >OF DASH)</text>
<text x="822.00" y="10.61" text-anchor="start" font-size="7.3" >CCD</text>
<text x="822.00" y="22.91" text-anchor="start" font-size="7.3" >CCD</text>
<text x="797.00" y="16.41" text-anchor="end" font-size="7.3" >WHT/BLK</text>
<text x="809.30" y="16.41" text-anchor="end" font-size="7.3" >17</text>
<text x="871.30" y="39.61" text-anchor="end" font-size="7.3" >CENTRAL TIMER</text>
<text x="871.30" y="48.61" text-anchor="end" font-size="7.3" >MODULE</text>
<text x="871.30" y="57.61" text-anchor="end" font-size="7.3" >(LEFT SIDE OF DASH,</text>
<text x="871.30" y="66.61" text-anchor="end" font-size="7.3" >RIGHT OF STEERING</text>
<text x="871.30" y="75.91" text-anchor="end" font-size="7.3" >COLUMN)</text>
<text x="797.00" y="90.61" text-anchor="end" font-size="7.3" >WHT/BLK</text>
<text x="809.50" y="90.61" text-anchor="end" font-size="7.3" >17</text>
<text x="797.00" y="102.61" text-anchor="end" font-size="7.3" >VIO/BRN</text>
<text x="811.00" y="102.61" text-anchor="end" font-size="7.3" >20</text>
<text x="797.00" y="114.41" text-anchor="end" font-size="7.3" >VIO/BRN</text>
<text x="809.50" y="114.41" text-anchor="end" font-size="7.3" >9</text>
<text x="797.00" y="126.41" text-anchor="end" font-size="7.3" >WHT/BLK</text>
<text x="809.50" y="126.41" text-anchor="end" font-size="7.3" >6</text>
<text x="871.00" y="148.11" text-anchor="end" font-size="7.3" >JOINT CONNECTOR 7</text>
<text x="871.00" y="157.61" text-anchor="end" font-size="7.3" >(BEHIND LEFT</text>
<text x="871.00" y="166.61" text-anchor="end" font-size="7.3" >SIDE OF DASH)</text>
<text x="790.00" y="273.61" text-anchor="end" font-size="7.3" >LT BLU/RED</text>
<text x="791.00" y="298.11" text-anchor="end" font-size="7.3" >LT BLU/BLK</text>
<text x="836.50" y="278.61" text-anchor="start" font-size="7.3" >RIGHT</text>
<text x="836.50" y="287.51" text-anchor="start" font-size="7.3" >TWEETER</text>
<text x="836.50" y="296.41" text-anchor="start" font-size="7.3" >SPEAKER</text>
<text x="791.30" y="334.61" text-anchor="end" font-size="7.3" >TAN/BLK</text>
<text x="788.80" y="359.41" text-anchor="end" font-size="7.3" >TAN/VIO</text>
<text x="836.50" y="339.91" text-anchor="start" font-size="7.3" >RIGHT</text>
<text x="836.50" y="348.81" text-anchor="start" font-size="7.3" >REAR</text>
<text x="836.50" y="357.71" text-anchor="start" font-size="7.3" >SPEAKER</text>
<text x="790.00" y="395.86" text-anchor="end" font-size="7.3" >YEL/RED</text>
<text x="790.80" y="420.16" text-anchor="end" font-size="7.3" >YEL/BLK</text>
<text x="836.50" y="400.61" text-anchor="start" font-size="7.3" >LEFT</text>
<text x="836.50" y="409.51" text-anchor="start" font-size="7.3" >TWEETER</text>
<text x="836.50" y="418.41" text-anchor="start" font-size="7.3" >SPEAKER</text>
<text x="790.00" y="457.11" text-anchor="end" font-size="7.3" >WHT/DK GRN</text>
<text x="788.80" y="481.66" text-anchor="end" font-size="7.3" >WHT/VIO</text>
<text x="836.50" y="461.61" text-anchor="start" font-size="7.3" >LEFT</text>
<text x="836.50" y="470.51" text-anchor="start" font-size="7.3" >REAR</text>
<text x="836.50" y="479.41" text-anchor="start" font-size="7.3" >SPEAKER</text>
<text x="586.00" y="504.61" text-anchor="start" font-size="7.3" >S302</text>
<text transform="translate(714.11,571.30) rotate(-90)" text-anchor="start" font-size="7.3" style="stroke-width:0.5px" >BLK/VIO</text>
<text transform="translate(310.31,571.30) rotate(-90)" text-anchor="start" font-size="7.3" style="stroke-width:0.5px" >LT BLU/RED</text>
<text transform="translate(310.31,590.20) rotate(-90)" text-anchor="start" font-size="7.3" style="stroke-width:0.5px" >1</text>
<text transform="translate(323.31,571.30) rotate(-90)" text-anchor="start" font-size="7.3" style="stroke-width:0.5px" >LT BLU/BLK</text>
<text transform="translate(323.31,590.20) rotate(-90)" text-anchor="start" font-size="7.3" style="stroke-width:0.5px" >2</text>
<text transform="translate(334.56,571.30) rotate(-90)" text-anchor="start" font-size="7.3" style="stroke-width:0.5px" >VIO</text>
<text transform="translate(334.56,590.20) rotate(-90)" text-anchor="start" font-size="7.3" style="stroke-width:0.5px" >3</text>
<text transform="translate(346.56,571.30) rotate(-90)" text-anchor="start" font-size="7.3" style="stroke-width:0.5px" >DK BLU/RED</text>
<text transform="translate(346.56,590.20) rotate(-90)" text-anchor="start" font-size="7.3" style="stroke-width:0.5px" >4</text>
<text transform="translate(359.06,571.30) rotate(-90)" text-anchor="start" font-size="7.3" style="stroke-width:0.5px" >TAN/BLK</text>
<text transform="translate(359.06,590.20) rotate(-90)" text-anchor="start" font-size="7.3" style="stroke-width:0.5px" >5</text>
<text transform="translate(372.06,571.30) rotate(-90)" text-anchor="start" font-size="7.3" style="stroke-width:0.5px" >TAN/VIO</text>
<text transform="translate(372.06,590.20) rotate(-90)" text-anchor="start" font-size="7.3" style="stroke-width:0.5px" >6</text>
<text transform="translate(383.81,571.30) rotate(-90)" text-anchor="start" font-size="7.3" style="stroke-width:0.5px" >BLK/RED</text>
<text transform="translate(383.81,590.20) rotate(-90)" text-anchor="start" font-size="7.3" style="stroke-width:0.5px" >7</text>
<text transform="translate(395.81,571.30) rotate(-90)" text-anchor="start" font-size="7.3" style="stroke-width:0.5px" >BLK/VIO</text>
<text transform="translate(395.81,590.20) rotate(-90)" text-anchor="start" font-size="7.3" style="stroke-width:0.5px" >8</text>
<text transform="translate(407.81,571.30) rotate(-90)" text-anchor="start" font-size="7.3" style="stroke-width:0.5px" >DK BLU/WHT</text>
<text transform="translate(407.81,590.20) rotate(-90)" text-anchor="start" font-size="7.3" style="stroke-width:0.5px" >9</text>
<text transform="translate(420.31,571.30) rotate(-90)" text-anchor="start" font-size="7.3" style="stroke-width:0.5px" >DK BLU/ORG</text>
<text transform="translate(420.31,590.50) rotate(-90)" text-anchor="start" font-size="7.3" style="stroke-width:0.5px" >10</text>
<text x="440.50" y="604.61" text-anchor="start" font-size="7.3" >RIGHT</text>
<text x="440.50" y="612.41" text-anchor="start" font-size="7.3" clip-path="url(#cb)">FRONT</text>
<text transform="translate(506.06,571.30) rotate(-90)" text-anchor="start" font-size="7.3" style="stroke-width:0.5px" >YEL/RED</text>
<text transform="translate(506.06,590.20) rotate(-90)" text-anchor="start" font-size="7.3" style="stroke-width:0.5px" >1</text>
<text transform="translate(518.56,571.30) rotate(-90)" text-anchor="start" font-size="7.3" style="stroke-width:0.5px" >YEL/BLK</text>
<text transform="translate(518.56,590.20) rotate(-90)" text-anchor="start" font-size="7.3" style="stroke-width:0.5px" >2</text>
<text transform="translate(529.81,571.30) rotate(-90)" text-anchor="start" font-size="7.3" style="stroke-width:0.5px" >DK GRN</text>
<text transform="translate(529.81,590.20) rotate(-90)" text-anchor="start" font-size="7.3" style="stroke-width:0.5px" >3</text>
<text transform="translate(542.81,571.30) rotate(-90)" text-anchor="start" font-size="7.3" style="stroke-width:0.5px" >BRN/RED</text>
<text transform="translate(542.81,590.20) rotate(-90)" text-anchor="start" font-size="7.3" style="stroke-width:0.5px" >4</text>
<text transform="translate(555.31,571.30) rotate(-90)" text-anchor="start" font-size="7.3" style="stroke-width:0.5px" >WHT/DK GRN</text>
<text transform="translate(555.31,590.20) rotate(-90)" text-anchor="start" font-size="7.3" style="stroke-width:0.5px" >5</text>
<text transform="translate(567.31,571.30) rotate(-90)" text-anchor="start" font-size="7.3" style="stroke-width:0.5px" >WHT/VIO</text>
<text transform="translate(567.31,590.20) rotate(-90)" text-anchor="start" font-size="7.3" style="stroke-width:0.5px" >6</text>
<text transform="translate(579.21,571.30) rotate(-90)" text-anchor="start" font-size="7.3" style="stroke-width:0.5px" >BLK/RED</text>
<text transform="translate(579.21,590.20) rotate(-90)" text-anchor="start" font-size="7.3" style="stroke-width:0.5px" >7</text>
<text transform="translate(591.56,571.30) rotate(-90)" text-anchor="start" font-size="7.3" style="stroke-width:0.5px" >BLK/VIO</text>
<text transform="translate(591.56,590.20) rotate(-90)" text-anchor="start" font-size="7.3" style="stroke-width:0.5px" >8</text>
<text transform="translate(604.06,571.30) rotate(-90)" text-anchor="start" font-size="7.3" style="stroke-width:0.5px" >BRN/YEL</text>
<text transform="translate(604.06,590.20) rotate(-90)" text-anchor="start" font-size="7.3" style="stroke-width:0.5px" >9</text>
<text transform="translate(615.56,571.30) rotate(-90)" text-anchor="start" font-size="7.3" style="stroke-width:0.5px" >BRN/LT BLU</text>
<text transform="translate(615.56,590.50) rotate(-90)" text-anchor="start" font-size="7.3" style="stroke-width:0.5px" >10</text>
<text x="635.50" y="604.61" text-anchor="start" font-size="7.3" >LEFT</text>
<text x="635.50" y="612.41" text-anchor="start" font-size="7.3" clip-path="url(#cb)">FRONT</text>
</g>
</svg>
</body></html>
